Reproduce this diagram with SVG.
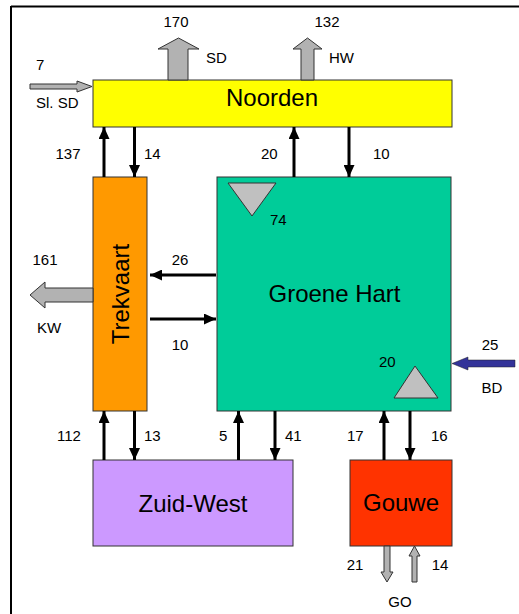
<svg xmlns="http://www.w3.org/2000/svg" width="519" height="614" viewBox="0 0 519 614">
<style>
text{font-family:"Liberation Sans",Arial,sans-serif;fill:#000}
.lbl{font-size:15px}
.big{font-size:24px}
.box{stroke:#333;stroke-width:1}
.flow{stroke:#000;stroke-width:3;fill:none;marker-end:url(#ah)}
.gray{fill:#B2B2B2;stroke:#333;stroke-width:1}
.tri{fill:#C0C0C0;stroke:#333;stroke-width:1}
</style>
<defs>
<marker id="ah" viewBox="0 0 12 11" refX="12" refY="5.5" markerWidth="12" markerHeight="11" markerUnits="userSpaceOnUse" orient="auto">
<path d="M0,0 L12,5.5 L0,11 z" fill="#000"/>
</marker>
</defs>
<g id="frame">
<line x1="11" y1="6.5" x2="519" y2="6.5" stroke="#000" stroke-width="2"/>
<line x1="11" y1="6" x2="11" y2="614" stroke="#000" stroke-width="2"/>
</g>
<g id="noorden">
<rect class="box" x="93" y="80" width="359" height="47" fill="#FFFF00"/>
<text class="big" x="272" y="106" text-anchor="middle">Noorden</text>
</g>
<g id="trekvaart">
<rect class="box" x="93" y="177" width="54" height="234" fill="#FF9900"/>
<text class="big" transform="translate(129,294) rotate(-90)" text-anchor="middle">Trekvaart</text>
</g>
<g id="groene-hart">
<rect class="box" x="217" y="177" width="234" height="234" fill="#00CC99"/>
<text class="big" x="334.5" y="302" text-anchor="middle">Groene Hart</text>
<polygon class="tri" points="228,183 276,183 252,216"/>
<text class="lbl" x="270" y="225">74</text>
<polygon class="tri" points="415,366 438,398 394,398"/>
<text class="lbl" x="379" y="367">20</text>
</g>
<g id="zuid-west">
<rect class="box" x="93" y="460" width="200" height="86" fill="#CC99FF"/>
<text class="big" x="193" y="512" text-anchor="middle">Zuid-West</text>
</g>
<g id="gouwe">
<rect class="box" x="350" y="460" width="102" height="86" fill="#FF3300"/>
<text class="big" x="401" y="511" text-anchor="middle">Gouwe</text>
</g>
<g id="connectors">
<polygon class="gray" points="168,80 168,49 158,49 178.5,38 199,49 188,49 188,80"/>
<text class="lbl" x="176" y="27" text-anchor="middle">170</text>
<text class="lbl" x="206" y="63">SD</text>
<polygon class="gray" points="301,80 301,49 293,49 307.5,38 322,49 314,49 314,80"/>
<text class="lbl" x="327" y="27" text-anchor="middle">132</text>
<text class="lbl" x="329" y="63">HW</text>
<polygon class="gray" points="30,84 77,84 77,81 92,86.5 77,92 77,89 30,89"/>
<text class="lbl" x="36" y="70">7</text>
<text class="lbl" x="36" y="108">Sl. SD</text>
<polygon class="gray" points="93,288 45,288 45,282 30,295 45,308 45,302 93,302"/>
<text class="lbl" x="45" y="265" text-anchor="middle">161</text>
<text class="lbl" x="49" y="333" text-anchor="middle">KW</text>
<polygon points="515,360 468,360 468,357 452,363.5 468,370 468,367 515,367" fill="#333399" stroke="#222" stroke-width="0.5"/>
<text class="lbl" x="490" y="350" text-anchor="middle">25</text>
<text class="lbl" x="492" y="393" text-anchor="middle">BD</text>
<polygon class="gray" points="384,546 384,572 381,572 387,582 393,572 390,572 390,546"/>
<polygon class="gray" points="412,582 412,556 409,556 414.5,546 420,556 417,556 417,582"/>
<text class="lbl" x="355" y="570" text-anchor="middle">21</text>
<text class="lbl" x="440" y="570" text-anchor="middle">14</text>
<text class="lbl" x="400" y="607" text-anchor="middle">GO</text>
<line class="flow" x1="104" y1="177" x2="104" y2="127"/>
<line class="flow" x1="134.5" y1="127" x2="134.5" y2="177"/>
<text class="lbl" x="68" y="159" text-anchor="middle">137</text>
<text class="lbl" x="144" y="159">14</text>
<line class="flow" x1="294" y1="177" x2="294" y2="127"/>
<line class="flow" x1="349" y1="127" x2="349" y2="177"/>
<text class="lbl" x="261" y="159">20</text>
<text class="lbl" x="373" y="159">10</text>
<line class="flow" x1="216" y1="275" x2="150" y2="275"/>
<line class="flow" x1="150" y1="319" x2="216" y2="319"/>
<text class="lbl" x="180" y="265" text-anchor="middle">26</text>
<text class="lbl" x="180" y="350" text-anchor="middle">10</text>
<line class="flow" x1="104" y1="460" x2="104" y2="411"/>
<line class="flow" x1="134.5" y1="411" x2="134.5" y2="460"/>
<text class="lbl" x="69" y="441" text-anchor="middle">112</text>
<text class="lbl" x="144" y="441">13</text>
<line class="flow" x1="238.5" y1="460" x2="238.5" y2="411"/>
<line class="flow" x1="275" y1="411" x2="275" y2="460"/>
<text class="lbl" x="219" y="441">5</text>
<text class="lbl" x="285" y="441">41</text>
<line class="flow" x1="384" y1="460" x2="384" y2="411"/>
<line class="flow" x1="410" y1="411" x2="410" y2="460"/>
<text class="lbl" x="347" y="441">17</text>
<text class="lbl" x="431" y="441">16</text>
</g>
</svg>
